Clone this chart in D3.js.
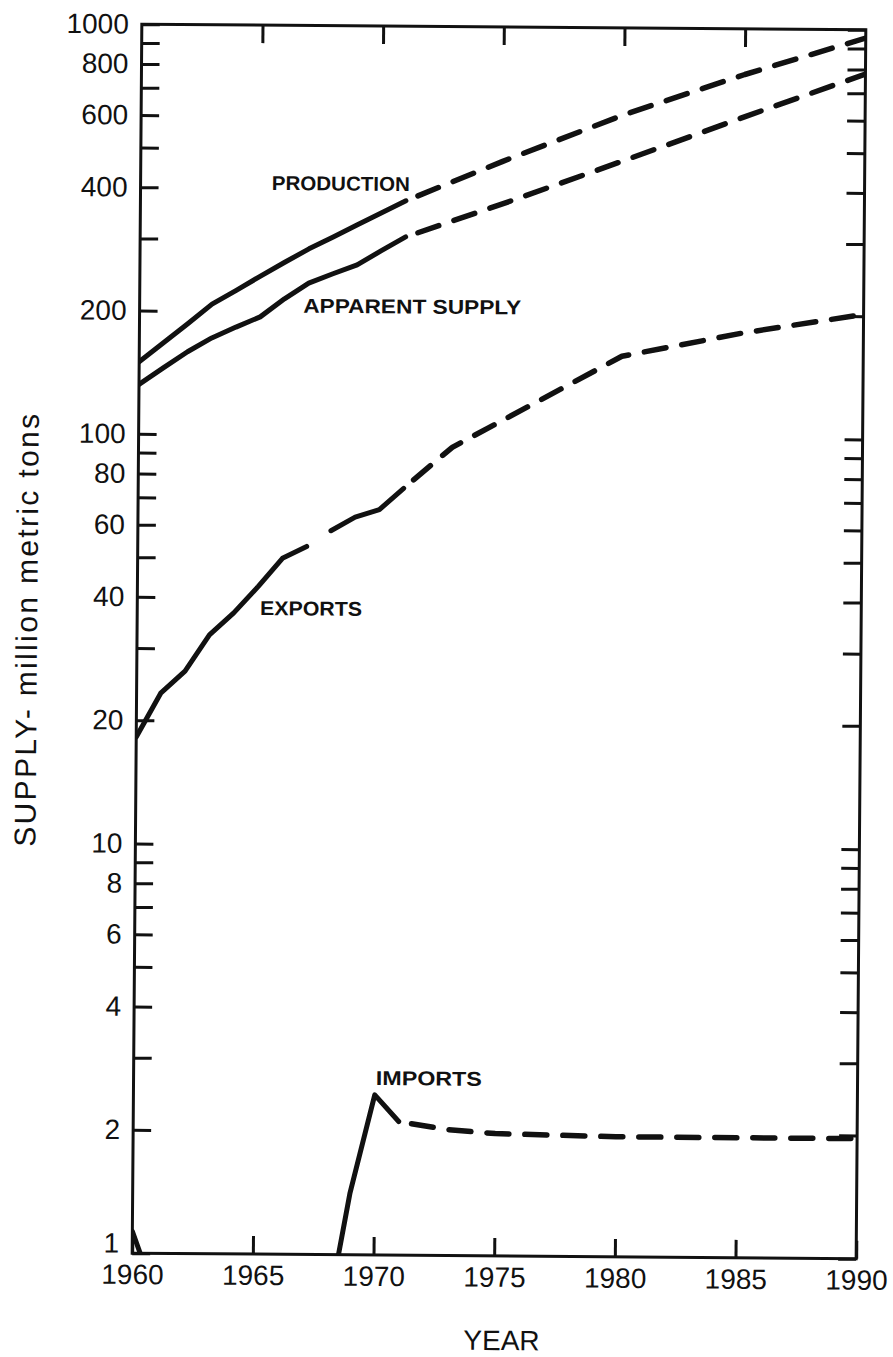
<!DOCTYPE html>
<html>
<head>
<meta charset="utf-8">
<title>Supply, million metric tons, 1960–1990</title>
<script src="https://cdn.jsdelivr.net/npm/d3@7/dist/d3.min.js"></script>
<style>
  html, body { margin: 0; padding: 0; background: #fff; }
  svg { display: block; }
  text { font-family: "Liberation Sans", Arial, sans-serif; fill: #111; }
</style>
</head>
<body>
<svg id="chart" width="893" height="1357"></svg>
<script>
// ---- data -------------------------------------------------------------
// recorded years (solid lines) and projection years (dashed lines)
const historyYears = [1960, 1961, 1962, 1963, 1964, 1965, 1966, 1967, 1968, 1969, 1970, 1971];
const projectionYears = [1971, 1975, 1980, 1985, 1990];
const exportProjectionYears = [1971, 1973, 1975, 1980, 1985, 1990];
const importProjectionYears = [1971, 1973, 1975, 1980, 1985, 1990];

// million metric tons
const productionHistory = [150, 167, 186, 208, 225, 244, 264, 285, 305, 327, 350, 375];
const productionProjection = [375, 470, 614, 774, 955];

const supplyHistory = [132, 145, 159, 172, 183, 194, 215, 235, 248, 261, 283, 306];
const supplyProjection = [306, 370, 474, 610, 780];

const exportsHistory = [18.2, 23.3, 26.4, 32.4, 36.7, 42.6, 50, 53.5, 58.5, 63.2, 66, 74.5];
const exportsProjection = [74.5, 94, 109, 158, 181, 202];

// imports: small in 1960, then negligible until 1968 (below 1 falls off the axis)
const importsEarlyYears = [1960, 1961];
const importsEarly = [1.13, 0.78];
const importsLateYears = [1968, 1969, 1970, 1971];
const importsLate = [0.66, 1.41, 2.46, 2.12];
const importsProjection = [2.12, 2.03, 1.99, 1.965, 1.965, 1.965];

// axis labels
const yTickLabels = [1, 2, 4, 6, 8, 10, 20, 40, 60, 80, 100, 200, 400, 600, 800, 1000];
const xTickLabels = [1960, 1965, 1970, 1975, 1980, 1985, 1990];
const xInnerTicks = [1965, 1970, 1975, 1980, 1985];

// ---- layout -----------------------------------------------------------
const frame = { left: 137, right: 861, top: 27, bottom: 1256 };
const tickLen = 18;
const ink = "#111";

const svg = d3.select("#chart");
const x = d3.scaleLinear().domain([1960, 1990]).range([frame.left, frame.right]);
const y = d3.scaleLog().domain([1, 1000]).range([frame.bottom, frame.top]);

// the whole sheet sits a little askew on the page
const root = svg.append("g")
  .attr("transform", `rotate(0.45, ${(frame.left + frame.right) / 2}, 641)`);

root.append("clipPath").attr("id", "plot-clip")
  .append("rect")
  .attr("x", frame.left).attr("y", frame.top)
  .attr("width", frame.right - frame.left)
  .attr("height", frame.bottom - frame.top);

// ---- axes -------------------------------------------------------------
const labelled = new Set(yTickLabels);
const styleAxis = g => {
  g.attr("font-family", null);
  g.select(".domain").remove();
  g.selectAll(".tick line").attr("stroke", ink).attr("stroke-width", 3);
  g.selectAll(".tick text").attr("fill", ink).attr("font-size", 28);
};

const leftAxis = root.append("g")
  .attr("transform", `translate(${frame.left},0)`)
  .call(d3.axisLeft(y)
    .tickValues(y.ticks())
    .tickSizeInner(-tickLen).tickSizeOuter(0).tickPadding(13)
    .tickFormat(d => labelled.has(Math.round(d)) ? String(Math.round(d)) : ""))
  .call(styleAxis);

// the bottom "1" sits just above the year labels
leftAxis.selectAll(".tick text")
  .filter(d => Math.round(d) === 1)
  .attr("dy", "-0.03em");

root.append("g")
  .attr("transform", `translate(${frame.right},0)`)
  .call(d3.axisRight(y)
    .tickValues(y.ticks())
    .tickSizeInner(-tickLen).tickSizeOuter(0)
    .tickFormat(""))
  .call(styleAxis);

root.append("g")
  .attr("transform", `translate(0,${frame.top})`)
  .call(d3.axisTop(x)
    .tickValues(xInnerTicks)
    .tickSizeInner(-tickLen).tickSizeOuter(0)
    .tickFormat(""))
  .call(styleAxis);

root.append("g")
  .attr("transform", `translate(0,${frame.bottom})`)
  .call(d3.axisBottom(x)
    .tickValues(xTickLabels)
    .tickSizeInner(-tickLen).tickSizeOuter(0).tickPadding(11)
    .tickFormat(d3.format("d")))
  .call(styleAxis);

root.append("rect")
  .attr("x", frame.left).attr("y", frame.top)
  .attr("width", frame.right - frame.left)
  .attr("height", frame.bottom - frame.top)
  .attr("fill", "none").attr("stroke", ink).attr("stroke-width", 3);

// ---- series -----------------------------------------------------------
const pairs = (years, values) => years.map((yr, i) => [yr, values[i]]);
const line = d3.line().x(d => x(d[0])).y(d => y(d[1]));

const plot = root.append("g").attr("clip-path", "url(#plot-clip)");

const solid = pts => plot.append("path")
  .attr("d", line(pts))
  .attr("fill", "none").attr("stroke", ink)
  .attr("stroke-width", 5)
  .attr("stroke-linecap", "round").attr("stroke-linejoin", "round");

const dashed = pts => plot.append("path")
  .attr("d", line(pts))
  .attr("fill", "none").attr("stroke", ink)
  .attr("stroke-width", 5.5)
  .attr("stroke-dasharray", "22 16")
  .attr("stroke-dashoffset", 25)
  .attr("stroke-linecap", "round").attr("stroke-linejoin", "round");

// production
solid(pairs(historyYears, productionHistory));
dashed(pairs(projectionYears, productionProjection));

// apparent supply
solid(pairs(historyYears, supplyHistory));
dashed(pairs(projectionYears, supplyProjection));

// exports: break in the record between 1967 and 1968
const exportsPts = pairs(historyYears, exportsHistory);
solid(exportsPts.slice(0, 8));
solid(exportsPts.slice(8));
dashed(pairs(exportProjectionYears, exportsProjection));

// imports
solid(pairs(importsEarlyYears, importsEarly));
solid(pairs(importsLateYears, importsLate));
dashed(pairs(importProjectionYears, importsProjection));

// ---- series labels ----------------------------------------------------
const annotations = [
  { text: "PRODUCTION", year: 1965.44, value: 396, width: 138 },
  { text: "APPARENT SUPPLY", year: 1966.78, value: 199, width: 218 },
  { text: "EXPORTS", year: 1965.09, value: 36.3, width: 102 },
  { text: "IMPORTS", year: 1970.04, value: 2.6, width: 106 }
];

root.append("g").selectAll("text")
  .data(annotations)
  .join("text")
  .attr("x", d => x(d.year))
  .attr("y", d => y(d.value))
  .attr("font-size", 20)
  .attr("font-weight", 700)
  .attr("textLength", d => d.width)
  .attr("lengthAdjust", "spacingAndGlyphs")
  .text(d => d.text);

// ---- axis titles ------------------------------------------------------
root.append("text")
  .attr("x", x(1975) + 8)
  .attr("y", 1350)
  .attr("text-anchor", "middle")
  .attr("font-size", 28)
  .text("YEAR");

root.append("text")
  .attr("transform", "translate(37,634) rotate(-90)")
  .attr("text-anchor", "middle")
  .attr("font-size", 30)
  .attr("textLength", 433)
  .attr("lengthAdjust", "spacing")
  .text("SUPPLY- million metric tons");
</script>
</body>
</html>
